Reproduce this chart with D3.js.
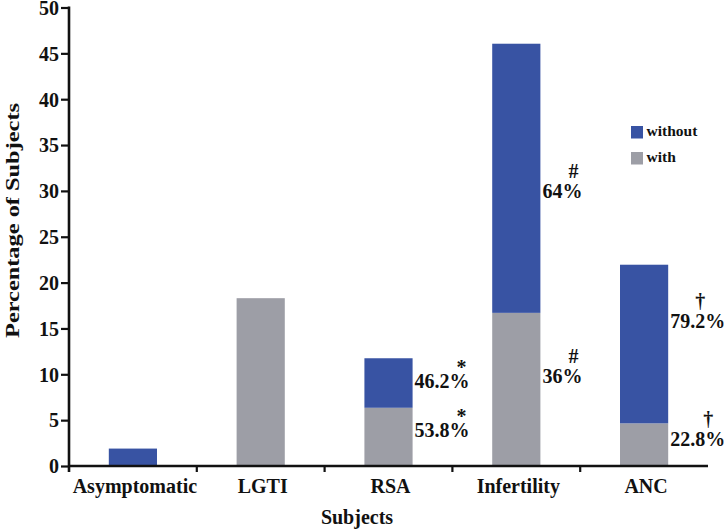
<!DOCTYPE html>
<html>
<head>
<meta charset="utf-8">
<script src="https://cdn.jsdelivr.net/npm/d3@7"></script>
<style>
  html, body { margin: 0; padding: 0; background: #fff; }
  svg { display: block; }
  text { font-family: "Liberation Serif", "Times New Roman", serif; font-weight: bold; fill: #111; }
</style>
</head>
<body>
<svg id="chart" width="726" height="531"></svg>
<script>
// ---- data ----
const categories = ["Asymptomatic", "LGTI", "RSA", "Infertility", "ANC"];
const withValues = [0, 18.3, 6.35, 16.7, 4.65];
const withoutValues = [1.9, 0, 5.4, 29.35, 17.3];
const yTicks = [0, 5, 10, 15, 20, 25, 30, 35, 40, 45, 50];
const seriesNames = ["without", "with"];
// annotations: category, label, symbol, value level (baseline in data units)
const annoCategory = ["RSA", "RSA", "Infertility", "Infertility", "ANC", "ANC"];
const annoLabel = ["46.2%", "53.8%", "64%", "36%", "79.2%", "22.8%"];
const annoSymbol = ["*", "*", "#", "#", "\u2020", "\u2020"];
const annoLevel = [8.5, 3.2, 29.2, 9.0, 15.0, 2.2];

// ---- layout ----
const symbolDx = [49, 49, 33, 33, 32, 40];
const colors = { without: "#3853a3", with: "#9d9ea6" };
const mLeft = 69, mRight = 708, mTop = 7.5, mBottom = 466;

const svg = d3.select("#chart");
const x = d3.scaleBand().domain(categories).range([mLeft, mRight]).padding(0);
const y = d3.scaleLinear().domain([0, 50]).range([mBottom, mTop]);
const barW = x.bandwidth() * 0.377;

const rows = categories.map((c, i) => ({ cat: c, with: withValues[i], without: withoutValues[i] }));
const stack = d3.stack().keys(["with", "without"])(rows);

const g = svg.append("g");
stack.forEach(layer => {
  g.selectAll(null).data(layer).enter().append("rect")
    .attr("x", d => x(d.data.cat) + (x.bandwidth() - barW) / 2)
    .attr("width", barW)
    .attr("y", d => y(d[1]))
    .attr("height", d => Math.max(0, y(d[0]) - y(d[1])))
    .attr("fill", colors[layer.key]);
});

// y axis
const yAxis = d3.axisLeft(y).tickValues(yTicks).tickSize(8).tickPadding(2).tickSizeOuter(0);
const ya = svg.append("g").attr("transform", `translate(${mLeft},0)`).call(yAxis);
ya.select(".domain").attr("stroke", "#111").attr("stroke-width", 2.6).attr("d", `M0,${mTop - 1}V${mBottom + 6}`);
ya.selectAll(".tick line").attr("stroke", "#111").attr("stroke-width", 2.2);
ya.selectAll(".tick text").style("font-size", "20px").style("font-family", "Liberation Serif").style("font-weight", "bold").attr("fill", "#111").attr("dy", "0.34em");

// x axis
const xa = svg.append("g").attr("transform", `translate(0,${mBottom})`);
xa.append("line").attr("x1", mLeft).attr("x2", mRight).attr("y1", 0).attr("y2", 0)
  .attr("stroke", "#111").attr("stroke-width", 2.6);
const bounds = categories.slice(1).map(c => x(c));
xa.selectAll(".bt").data(bounds).enter().append("line")
  .attr("x1", d => d).attr("x2", d => d).attr("y1", 0).attr("y2", 6)
  .attr("stroke", "#111").attr("stroke-width", 2.2);
xa.selectAll(".cl").data(categories).enter().append("text")
  .attr("x", d => x(d) + x.bandwidth() / 2 + 2)
  .attr("y", 27)
  .attr("text-anchor", "middle")
  .style("font-size", "20px")
  .text(d => d);

// axis titles
svg.append("text").attr("x", 357).attr("y", 524).attr("text-anchor", "middle")
  .style("font-size", "20px").text("Subjects");
svg.append("text").attr("transform", "translate(19,220.5) rotate(-90)")
  .attr("text-anchor", "middle").style("font-size", "19px")
  .attr("textLength", 235).attr("lengthAdjust", "spacingAndGlyphs")
  .text("Percentage of Subjects");

// annotations
annoLabel.forEach((lab, i) => {
  const bx = x(annoCategory[i]) + (x.bandwidth() + barW) / 2;
  const by = y(annoLevel[i]);
  svg.append("text").attr("x", bx + 2).attr("y", by).style("font-size", "20px").text(lab);
  svg.append("text").attr("x", bx + symbolDx[i]).attr("y", by - (annoSymbol[i] === "*" ? 14 : 20))
    .attr("text-anchor", "middle").style("font-size", "20px").text(annoSymbol[i]);
});

// legend
const lg = svg.append("g").attr("transform", "translate(631,126)");
seriesNames.forEach((s, i) => {
  lg.append("rect").attr("x", 0).attr("y", i * 26).attr("width", 12).attr("height", 12.5).attr("fill", colors[s]);
  lg.append("text").attr("x", 15.5).attr("y", i * 26 + 10).style("font-size", "15.5px").text(s);
});
</script>
</body>
</html>
